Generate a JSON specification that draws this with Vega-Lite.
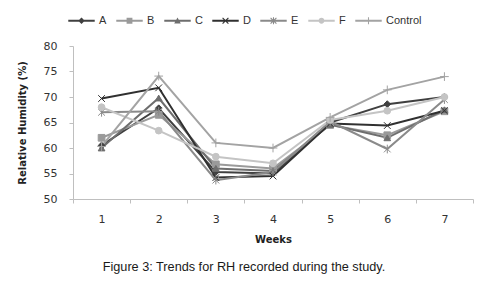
{
  "$schema": "https://vega.github.io/schema/vega-lite/v6.json",
  "autosize": {"type": "none"},
  "padding": {"left": 73, "top": 46, "right": 20, "bottom": 85},
  "width": 400,
  "height": 153,
  "background": "white",
  "config": {
    "view": {"stroke": null},
    "font": "Liberation Sans",
    "legend": {
      "orient": "none", "legendX": -5, "legendY": -39, "direction": "horizontal",
      "title": null, "symbolSize": 700, "symbolStrokeWidth": 0, "symbolOpacity": 1,
      "labelFontSize": 11, "labelColor": "#333333", "labelFont": "Liberation Sans",
      "labelOffset": 4, "columnPadding": 9
    }
  },
  "title": {
    "text": "Figure 3: Trends for RH recorded during the study.",
    "orient": "bottom",
    "anchor": "middle",
    "dx": -29,
    "offset": 17,
    "fontSize": 12.7,
    "fontWeight": "normal",
    "color": "#1a1a1a",
    "font": "Liberation Sans"
  },
  "data": {
    "values": [
      {"week": 1, "series": "A", "rh": 60.5}, {"week": 2, "series": "A", "rh": 67.8}, {"week": 3, "series": "A", "rh": 55.3}, {"week": 4, "series": "A", "rh": 55.0}, {"week": 5, "series": "A", "rh": 65.0}, {"week": 6, "series": "A", "rh": 68.6}, {"week": 7, "series": "A", "rh": 70.0},
      {"week": 1, "series": "B", "rh": 62.0}, {"week": 2, "series": "B", "rh": 66.5}, {"week": 3, "series": "B", "rh": 56.8}, {"week": 4, "series": "B", "rh": 56.0}, {"week": 5, "series": "B", "rh": 64.5}, {"week": 6, "series": "B", "rh": 62.5}, {"week": 7, "series": "B", "rh": 67.2},
      {"week": 1, "series": "C", "rh": 60.0}, {"week": 2, "series": "C", "rh": 69.8}, {"week": 3, "series": "C", "rh": 56.0}, {"week": 4, "series": "C", "rh": 55.5}, {"week": 5, "series": "C", "rh": 64.6}, {"week": 6, "series": "C", "rh": 62.0}, {"week": 7, "series": "C", "rh": 67.5},
      {"week": 1, "series": "D", "rh": 69.7}, {"week": 2, "series": "D", "rh": 71.8}, {"week": 3, "series": "D", "rh": 54.2}, {"week": 4, "series": "D", "rh": 54.5}, {"week": 5, "series": "D", "rh": 64.8}, {"week": 6, "series": "D", "rh": 64.4}, {"week": 7, "series": "D", "rh": 67.3},
      {"week": 1, "series": "E", "rh": 67.0}, {"week": 2, "series": "E", "rh": 67.2}, {"week": 3, "series": "E", "rh": 53.7}, {"week": 4, "series": "E", "rh": 55.3}, {"week": 5, "series": "E", "rh": 65.2}, {"week": 6, "series": "E", "rh": 59.8}, {"week": 7, "series": "E", "rh": 69.5},
      {"week": 1, "series": "F", "rh": 68.0}, {"week": 2, "series": "F", "rh": 63.4}, {"week": 3, "series": "F", "rh": 58.3}, {"week": 4, "series": "F", "rh": 57.0}, {"week": 5, "series": "F", "rh": 65.5}, {"week": 6, "series": "F", "rh": 67.3}, {"week": 7, "series": "F", "rh": 70.0},
      {"week": 1, "series": "Control", "rh": 60.3}, {"week": 2, "series": "Control", "rh": 74.1}, {"week": 3, "series": "Control", "rh": 61.0}, {"week": 4, "series": "Control", "rh": 60.0}, {"week": 5, "series": "Control", "rh": 66.0}, {"week": 6, "series": "Control", "rh": 71.4}, {"week": 7, "series": "Control", "rh": 74.0}
    ]
  },
  "encoding": {
    "x": {
      "field": "week", "type": "ordinal",
      "scale": {"type": "band", "paddingInner": 0, "paddingOuter": 0},
      "axis": {
        "title": "Weeks", "labelAngle": 0, "tickBand": "extent",
        "domainColor": "#bfbfbf", "tickColor": "#bfbfbf", "tickSize": 4,
        "labelPadding": 10, "labelFontSize": 11, "labelColor": "#333333", "labelFont": "DejaVu Sans",
        "titleFontSize": 10, "titleFontWeight": "bold", "titleColor": "#222222", "titleFont": "DejaVu Sans", "titlePadding": 10
      }
    },
    "y": {
      "field": "rh", "type": "quantitative",
      "scale": {"domain": [50, 80], "nice": false, "zero": false},
      "axis": {
        "title": "Relative Humidity (%)", "values": [50, 55, 60, 65, 70, 75, 80], "grid": false,
        "domainColor": "#bfbfbf", "tickColor": "#bfbfbf", "tickSize": 4,
        "labelPadding": 12, "labelFontSize": 11, "labelColor": "#333333", "labelFont": "DejaVu Sans",
        "titleFontSize": 10, "titleFontWeight": "bold", "titleColor": "#222222", "titleFont": "DejaVu Sans", "titlePadding": 16
      }
    }
  },
  "layer": [
    {
      "mark": {"type": "line", "strokeWidth": 2},
      "encoding": {
        "stroke": {
          "field": "series", "type": "nominal",
          "scale": {"domain": ["A", "B", "C", "D", "E", "F", "Control"], "range": ["#404040", "#9a9a9a", "#6e6e6e", "#303030", "#8a8a8a", "#c4c4c4", "#a3a3a3"]},
          "legend": null
        }
      }
    },
    {
      "mark": {"type": "point", "filled": true, "strokeWidth": 1, "size": 45, "opacity": 1},
      "encoding": {
        "fill": {
          "field": "series", "type": "nominal",
          "scale": {"domain": ["A", "B", "C", "D", "E", "F", "Control"], "range": ["#404040", "#9a9a9a", "#6e6e6e", "#5a5a5a", "#9a9a9a", "#c4c4c4", "#a3a3a3"]},
          "legend": null
        },
        "stroke": {"field": "series", "type": "nominal", "legend": null},
        "shape": {
          "field": "series", "type": "nominal",
          "scale": {"domain": ["A", "B", "C", "D", "E", "F", "Control"], "range": ["diamond", "square", "triangle-up", "M-1,-1L1,1M-1,1L1,-1", "M-1,-1L1,1M-1,1L1,-1M0,-1.3V1.3", "circle", "M-1.3,0H1.3M0,-1.3V1.3"]},
          "legend": null
        }
      }
    },
    {
      "transform": [{"filter": "false"}],
      "mark": {
        "type": "point", "filled": true, "opacity": 1,
        "fill": {"expr": "datum.value === 'A' ? '#404040' : datum.value === 'B' ? '#9a9a9a' : datum.value === 'C' ? '#6e6e6e' : datum.value === 'D' ? '#303030' : datum.value === 'E' ? '#8a8a8a' : datum.value === 'F' ? '#c4c4c4' : '#a3a3a3'"}
      },
      "encoding": {
        "shape": {
          "field": "series", "type": "nominal",
          "scale": {"domain": ["A", "B", "C", "D", "E", "F", "Control"], "range": [
            "M-1,-0.08H1V0.08H-1ZM0,-0.25L0.25,0L0,0.25L-0.25,0Z",
            "M-1,-0.08H1V0.08H-1ZM-0.22,-0.22H0.22V0.22H-0.22Z",
            "M-1,-0.08H1V0.08H-1ZM0,-0.25L0.25,0.2H-0.25Z",
            "M-1,-0.08H1V0.08H-1ZM-0.25,-0.19L-0.19,-0.25L0.25,0.19L0.19,0.25ZM0.19,-0.25L0.25,-0.19L-0.19,0.25L-0.25,0.19Z",
            "M-1,-0.08H1V0.08H-1ZM-0.25,-0.19L-0.19,-0.25L0.25,0.19L0.19,0.25ZM0.19,-0.25L0.25,-0.19L-0.19,0.25L-0.25,0.19ZM-0.04,-0.27H0.04V0.27H-0.04Z",
            "M-1,-0.08H1V0.08H-1ZM0.22,0A0.22,0.22,0,1,1,-0.22,0A0.22,0.22,0,1,1,0.22,0Z",
            "M-1,-0.08H1V0.08H-1ZM-0.04,-0.27H0.04V0.27H-0.04Z"
          ]},
          "legend": {
            "orient": "none", "legendX": -5, "legendY": -39, "direction": "horizontal", "title": null
          }
        }
      }
    }
  ],
  "resolve": {"scale": {"shape": "independent"}}
}
